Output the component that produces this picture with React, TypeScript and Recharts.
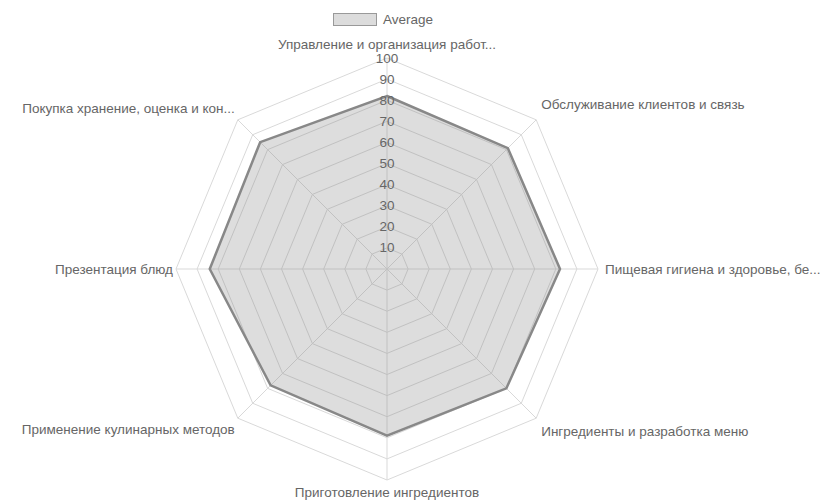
import React from "react";
import { RadarChart, Radar, PolarGrid, PolarAngleAxis, PolarRadiusAxis, Legend } from "recharts";

const categories = [
  "Управление и организация работ...",
  "Обслуживание клиентов и связь",
  "Пищевая гигиена и здоровье, бе...",
  "Ингредиенты и разработка меню",
  "Приготовление ингредиентов",
  "Применение кулинарных методов",
  "Презентация блюд",
  "Покупка хранение, оценка и кон...",
];
const averageValues = [82, 81, 82, 80, 79, 78, 84, 85];
const radiusTicks = [0, 10, 20, 30, 40, 50, 60, 70, 80, 90, 100];
const seriesName = "Average";

const data = categories.map((c, i) => ({ subject: c, value: averageValues[i] }));

const W = 821;
const H = 500;
const CX = 387;
const CY = 269;
const R = 211;
const FONT = "'Liberation Sans', Arial, Helvetica, sans-serif";
const TEXT = "#666";
const FS = 13.5;

const AngleTick = (props: any) => {
  const { x, y, payload } = props;
  const dx = x - CX;
  const dy = y - CY;
  const d = Math.hypot(dx, dy) || 1;
  const ux = dx / d;
  const uy = dy / d;
  const vx = CX + ux * R;
  const vy = CY + uy * R;
  let tx = vx;
  let ty = vy;
  let anchor: "start" | "middle" | "end" = "middle";
  if (Math.abs(ux) < 0.1) {
    ty = vy + (uy < 0 ? -14 : 12);
  } else if (ux > 0) {
    anchor = "start";
    const diag = Math.abs(uy) > 0.1;
    tx = vx + (diag ? 5 : 7);
    ty = diag ? vy + (uy < 0 ? -15 : 13) : vy;
  } else {
    anchor = "end";
    const diag = Math.abs(uy) > 0.1;
    tx = vx - 3;
    ty = diag ? vy + (uy < 0 ? -11 : 11) : vy;
  }
  return (
    <text x={tx} y={ty} textAnchor={anchor} dominantBaseline="central" fill={TEXT} fontSize={FS} fontFamily={FONT}>
      {payload.value}
    </text>
  );
};

const RadiusTick = (props: any) => {
  const { x, y, payload } = props;
  if (payload.value === 0) return null;
  return (
    <text x={x} y={y} textAnchor="middle" dominantBaseline="central" fill={TEXT} fontSize={FS} fontFamily={FONT}>
      {String(payload.value)}
    </text>
  );
};

const LegendContent = () => (
  <div style={{ display: "flex", justifyContent: "flex-start", alignItems: "center", paddingLeft: 333, fontFamily: FONT, fontSize: FS, color: TEXT }}>
    <span
      style={{
        display: "inline-block",
        width: 42,
        height: 11,
        background: "#dcdcdc",
        border: "1.5px solid #999",
        marginRight: 6,
      }}
    />
    <span>{seriesName}</span>
  </div>
);

export default function App() {
  return (
    <div style={{ position: "absolute", left: 0, top: 0, width: W, height: H, background: "#fff" }}>
      <RadarChart width={W} height={H} data={data} cx={CX} cy={CY} outerRadius={R} margin={{ top: 0, right: 0, bottom: 0, left: 0 }}>
        <PolarGrid stroke="#d9d9d9" gridType="polygon" />
        <PolarRadiusAxis
          angle={90}
          domain={[0, 100]}
          ticks={radiusTicks as any}
          tickCount={11}
          axisLine={false}
          tick={<RadiusTick />}
          tickLine={false}
        />
        <PolarAngleAxis dataKey="subject" tick={<AngleTick />} tickLine={false} axisLine={false} />
        <Radar
          name={seriesName}
          dataKey="value"
          stroke="#888"
          strokeWidth={2.5}
          fill="rgb(128,128,128)"
          fillOpacity={0.27}
          dot={false}
          isAnimationActive={false}
        />
        <Legend
          verticalAlign="top"
          content={<LegendContent />}
          wrapperStyle={{ position: "absolute", top: 12, left: 0, width: W }}
        />
      </RadarChart>
    </div>
  );
}
